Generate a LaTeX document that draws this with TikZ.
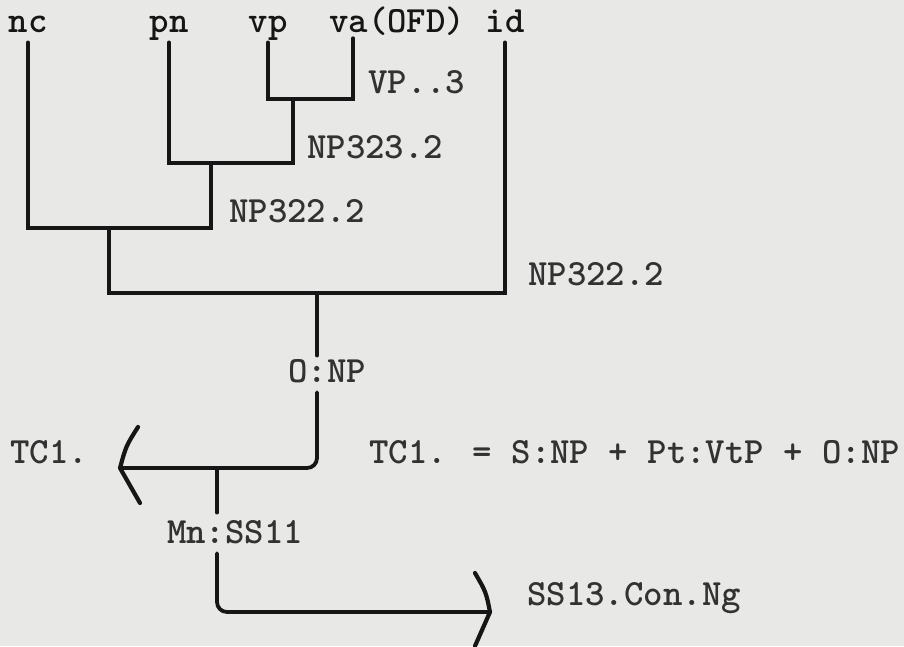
\documentclass[tikz,border=0pt]{standalone}
\usepackage{fontspec}
\definecolor{paper}{RGB}{232,232,230}
\definecolor{ink}{RGB}{22,22,22}
\definecolor{ink2}{RGB}{50,50,50}
\begin{document}
\begin{tikzpicture}[x=1pt,y=-1pt,
  tw/.style={font=\ttfamily\bfseries\fontsize{37}{42}\selectfont, inner sep=0pt},
  leaf/.style={tw, text=ink, anchor=base, text depth=7pt, inner ysep=3pt},
  lab/.style={tw, text=ink2, anchor=base west},
  gaplab/.style={tw, text=ink2, anchor=base, text depth=7pt, inner ysep=3pt},
  tree/.style={draw=ink, line width=3.3pt, line cap=round, line join=miter},
  bot/.style={draw=ink, line width=3.8pt, line cap=round, rounded corners=10pt},
  chev/.style={draw=ink, line width=4.2pt, line cap=round, line join=round}]
\useasboundingbox (0,0) rectangle (904,646);
\fill[paper] (0,0) rectangle (904,646);
% leaves
\node[leaf] (nc) at (28,32) {nc};
\node[leaf] (pn) at (169,32) {pn};
\node[leaf] (vp) at (268,32) {vp};
\node[leaf, anchor=base west] (va) at (329,32) {va(OFD)};
\node[leaf] (id) at (505,32) {id};
\coordinate (vaT) at (353,38);
% junctions
\coordinate (j1) at (293,99);
\coordinate (j2) at (211,163);
\coordinate (j3) at (109,228);
\coordinate (j4) at (317,293);
\coordinate (tcj) at (217,468);
\coordinate (tcTip) at (120,468);
\coordinate (ssTip) at (490,612);
% labels
\node[lab] (lVP) at (368,93) {VP..3};
\node[lab] (l323) at (307,158) {NP323.2};
\node[lab] (l322) at (229,222) {NP322.2};
\node[lab] (lroot) at (528,285) {NP322.2};
\node[gaplab] (onp) at (327,382) {O:NP};
\node[lab] (tc) at (10,463) {TC1.};
\node[lab] (eq) at (369,463) {TC1. = S:NP + Pt:VtP + O:NP};
\node[gaplab, text height=27pt] (mn) at (235,543) {Mn:SS11};
\node[lab] (ss) at (527,605) {SS13.Con.Ng};
% tree
\draw[tree] (vp.south) |- (j1) -| (vaT);
\draw[tree] (j1) |- (j2) -| (pn.south);
\draw[tree] (j2) |- (j3) -| (nc.south);
\draw[tree] (j3) |- (j4) -| (id.south);
% lower part
\draw[tree] (j4) -- (onp.north -| j4);
\draw[bot] (onp.south -| j4) |- (tcTip);
\draw[tree] (tcj) -- (mn.north -| tcj);
\draw[bot] (mn.south -| tcj) |- (ssTip);
% chevrons
\draw[chev] ([shift={(18,-41)}]tcTip) .. controls ([shift={(6,-22)}]tcTip) .. (tcTip) -- ([shift={(20,35)}]tcTip);
\draw[chev] ([shift={(-15,-39)}]ssTip) .. controls ([shift={(-4,-20)}]ssTip) .. (ssTip) -- ([shift={(-15,34)}]ssTip);
\end{tikzpicture}
\end{document}
